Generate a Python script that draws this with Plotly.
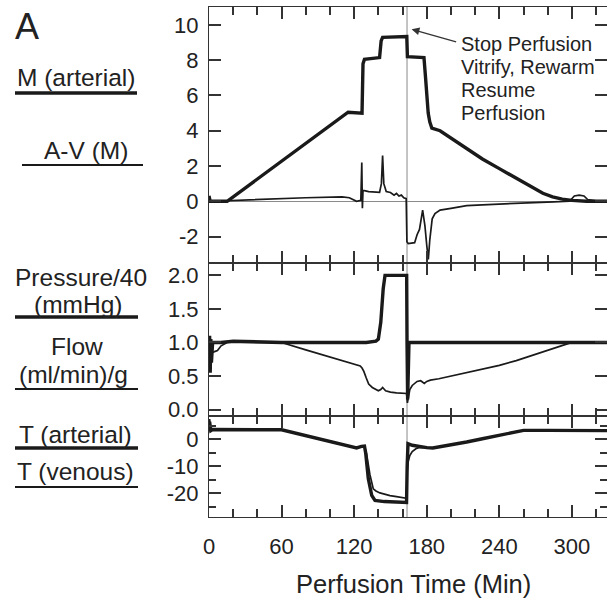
import plotly.graph_objects as go

# ---------------- data ----------------
# Top panel: M (arterial) thick, A-V (M) thin
t_M = [0, 1, 2, 15, 115, 126.5, 127.3, 128.5, 141, 142.3, 143.5, 163.5, 164,
       177.7, 178.8, 180, 181.2, 182.5, 184.2, 191, 200, 213, 226, 240, 254,
       268, 276, 284, 292, 300, 312, 329]
M_art = [0.3, 0, 0, 0, 5.05, 5.0, 7.8, 8.05, 8.15, 9.1, 9.3, 9.35, 8.2,
         8.15, 7.2, 6.0, 5.0, 4.5, 4.15, 4.0, 3.6, 3.0, 2.4, 1.85, 1.3,
         0.75, 0.45, 0.25, 0.12, 0.05, 0.0, 0.0]

t_AV = [0, 1, 3, 20, 50, 80, 110, 116, 122, 125.5, 126.3, 126.8, 127.3,
        128.5, 132, 137, 141, 142.5, 143.5, 144.5, 146.5, 150, 153, 155,
        157, 159, 161, 163, 163.6, 164.7, 170, 172, 174, 176.6, 178.5, 180,
        181.3, 182.5, 184.5, 186.8, 191, 200, 213, 226, 240, 254, 268, 285,
        298, 302, 306, 310, 313, 320, 329]
AV = [0.3, 0.0, 0.0, 0.05, 0.1, 0.2, 0.25, 0.2, 0.0, 0.05, 2.2, -0.4, 0.6,
      0.6, 0.55, 0.5, 0.5, 1.0, 2.6, 1.0, 0.55, 0.5, 0.35, 0.45, 0.3, 0.35,
      0.2, 0.15, -2.3, -2.4, -2.35, -1.9, -1.6, -0.5, -1.4, -2.5, -3.3,
      -2.2, -1.0, -0.7, -0.5, -0.4, -0.25, -0.2, -0.15, -0.1, -0.08, -0.03,
      0.0, 0.3, 0.35, 0.3, 0.1, 0.02, 0.0]

# Middle panel: Pressure/40 thick, Flow thin
t_P = [0, 0.5, 1, 1.5, 2, 3, 10, 20, 60, 100, 130, 138, 140, 142, 144,
       145.5, 163.4, 163.7, 164.2, 164.8, 165.3, 200, 250, 300, 329]
P40 = [0.6, 1.1, 0.55, 1.05, 0.7, 1.0, 1.0, 1.02, 1.0, 1.0, 1.0, 1.02,
       1.05, 1.3, 1.8, 2.0, 2.0, 1.0, 0.15, 0.6, 1.0, 1.0, 1.0, 1.0, 1.0]

t_F = [0, 0.5, 1, 2, 4, 7, 10, 15, 30, 60, 80, 100, 115, 122, 125, 126.5,
       128, 130, 132, 135, 138, 140, 142, 143.5, 146, 150, 155, 160, 163.3,
       164, 165, 166, 168, 172, 175, 178, 180, 183, 190, 200, 213, 226, 240,
       254, 268, 283, 298, 310, 329]
Flow = [0.6, 0.95, 0.75, 0.85, 0.86, 0.88, 0.95, 1.0, 1.0, 1.0, 0.89, 0.78,
        0.70, 0.66, 0.65, 0.62, 0.57, 0.47, 0.38, 0.33, 0.3, 0.28, 0.3,
        0.33, 0.28, 0.26, 0.25, 0.24, 0.24, 0.1, 0.2, 0.3, 0.36, 0.42, 0.43,
        0.39, 0.42, 0.44, 0.46, 0.5, 0.56, 0.61, 0.66, 0.73, 0.81, 0.9, 0.99,
        1.0, 1.0]

# Bottom panel: T (arterial) thick, T (venous) thin
t_Ta = [0, 0.5, 1.5, 3, 60, 90, 122, 126, 128.5, 129.5, 131.7, 134.5, 137.2,
        145, 163.3, 163.8, 164.5, 168, 174, 180, 185, 200, 213, 226, 240,
        250, 260, 280, 300, 329]
T_art = [3.0, 6.5, 3.2, 3.6, 3.5, 0.2, -3.2, -2.6, -2.5, -5.0, -14.6, -20.7,
         -22.6, -23.0, -23.3, -10.0, -1.6, -2.2, -2.8, -3.1, -3.2, -2.1,
         -1.0, 0.2, 1.5, 2.5, 3.3, 3.3, 3.2, 3.2]

t_Tv = [0, 0.5, 1.5, 3, 60, 90, 122, 126, 128.5, 130.3, 133, 135.8, 138,
        141.3, 145, 149.6, 155, 157.9, 163.3, 163.8, 164.5, 166, 168, 171,
        174, 180, 185, 200, 213, 226, 240, 250, 260, 280, 300, 329]
T_ven = [3.0, 7.5, 3.0, 3.6, 3.5, 0.2, -3.2, -2.6, -2.5, -5.5, -13.0, -18.3,
         -19.1, -19.8, -20.3, -20.8, -21.2, -21.4, -21.8, -12.0, -8.5, -6.0,
         -4.5, -3.5, -3.0, -3.1, -3.2, -2.1, -1.0, 0.2, 1.5, 2.5, 3.3, 3.3,
         3.2, 3.2]

t_event = 163.7

# tick values and labels (plain hyphen minus as in the reference)
x_ticks = [0, 60, 120, 180, 240, 300]
y1_ticks = [-2, 0, 2, 4, 6, 8, 10]
y1_text = ["-2", "0", "2", "4", "6", "8", "10"]
y2_ticks = [0.0, 0.5, 1.0, 1.5, 2.0]
y2_text = ["0.0", "0.5", "1.0", "1.5", "2.0"]
y3_ticks = [-20, -10, 0]
y3_text = ["-20", "-10", "0"]

# ---------------- figure ----------------
W, H = 607, 603
ML, MR, MT, MB = 209, 0, 7, 86
PW, PH = W - ML - MR, H - MT - MB


def px(xp):
    return (xp - ML) / PW


def py(yp):
    return (H - MB - yp) / PH


d1 = 101 / PH
d2 = 254.4 / PH

INK = "#1a1a1a"
AXC = "#333333"
FONT = "Liberation Sans, Arial, sans-serif"
THICK, THIN = 3.4, 1.7

fig = go.Figure()


def add(x, y, w, xa, ya):
    fig.add_trace(go.Scatter(x=x, y=y, mode="lines", xaxis=xa, yaxis=ya,
                             line=dict(color=INK, width=w),
                             showlegend=False, hoverinfo="skip"))


add(t_AV, AV, THIN, "x", "y")
add(t_M, M_art, THICK, "x", "y")
add(t_F, Flow, THIN, "x2", "y2")
add(t_P, P40, THICK, "x2", "y2")
add(t_Tv, T_ven, THIN, "x3", "y3")
add(t_Ta, T_art, THICK, "x3", "y3")

tickfont = dict(family=FONT, size=22, color="#222")

xbase = dict(range=[0, 329], showline=True, linecolor=AXC, linewidth=1.1,
             mirror="ticks", ticks="inside", ticklen=12, tickwidth=1.5,
             tickcolor=AXC, tickmode="array", tickvals=x_ticks,
             minor=dict(dtick=20, tick0=0, ticks="inside", ticklen=8,
                        tickwidth=1.5, tickcolor=AXC),
             showgrid=False, zeroline=False, fixedrange=True)

ybase = dict(showline=True, linecolor=AXC, linewidth=1.1, mirror="ticks",
             ticks="inside", ticklen=12, tickwidth=1.5, tickcolor=AXC,
             showgrid=False, tickfont=tickfont, ticklabelstandoff=5,
             tickmode="array", fixedrange=True)

fig.update_layout(
    width=W, height=H,
    margin=dict(l=ML, r=MR, t=MT, b=MB, pad=0, autoexpand=False),
    paper_bgcolor="white", plot_bgcolor="white",
    font=dict(family=FONT, color="#222"),
    xaxis=dict(xbase, anchor="y", showticklabels=False),
    xaxis2=dict(xbase, anchor="y2", showticklabels=False, matches="x"),
    xaxis3=dict(xbase, anchor="y3", showticklabels=True, matches="x",
                tickfont=tickfont, ticklabelstandoff=10),
    yaxis=dict(ybase, domain=[d2, 1], range=[-3.48, 11.02],
               tickvals=y1_ticks, ticktext=y1_text,
               zeroline=True, zerolinecolor="#8a8a8a", zerolinewidth=1),
    yaxis2=dict(ybase, domain=[d1, d2], range=[-0.095, 2.19],
                tickvals=y2_ticks, ticktext=y2_text, zeroline=False),
    yaxis3=dict(ybase, domain=[0, d1], range=[-28.7, 8.6],
                tickvals=y3_ticks, ticktext=y3_text, zeroline=False,
                minor=dict(dtick=5, tick0=0, ticks="inside", ticklen=7,
                           tickwidth=1.5, tickcolor=AXC)),
)

# event line through all panels
fig.add_shape(type="line", xref="x", yref="paper", x0=t_event, x1=t_event,
              y0=0, y1=1, line=dict(color="#8a8a8a", width=1), layer="below")

ann = []


def label(text, cx, cy, size=24.5, anchor="center"):
    ann.append(dict(text=text, xref="paper", yref="paper", x=px(cx),
                    y=py(cy), xanchor=anchor, yanchor="middle",
                    showarrow=False,
                    font=dict(family=FONT, size=size, color="#222")))


label("A", 27, 27, size=36)
label("M (arterial)", 76, 78)
label("A-V (M)", 86, 150)
label("Pressure/40", 81, 277)
label("(mmHg)", 78, 305)
label("Flow", 77, 346)
label("(ml/min)/g", 73, 374)
label("T (arterial)", 75, 434)
label("T (venous)", 75, 471)
label("Perfusion Time (Min)", 413, 584, size=25.5)

for txt, cy in [("Stop Perfusion", 44), ("Vitrify, Rewarm", 67),
                ("Resume", 90), ("Perfusion", 113)]:
    label(txt, 459, cy, size=20, anchor="left")

# arrow to the event line
ann.append(dict(text="", xref="x", yref="y", x=167.5, y=9.76, ax=46, ay=13,
                showarrow=True, arrowhead=2, arrowsize=1.2, arrowwidth=1.3,
                arrowcolor="#333"))

fig.update_layout(annotations=ann)

# legend-style underlines
for (x0, x1, yy, w) in [(15, 137, 93, THICK), (22, 143, 165, 2.0),
                        (15, 138, 317, THICK), (15, 138, 389, 2.0),
                        (15, 138, 448, THICK), (15, 138, 487, 2.0)]:
    fig.add_shape(type="line", xref="paper", yref="paper", x0=px(x0),
                  x1=px(x1), y0=py(yy), y1=py(yy),
                  line=dict(color=INK, width=w))

fig.write_html("out.html", config={"displayModeBar": False},
               post_script="document.body.style.margin='0px';"
                           "document.body.style.overflow='hidden';")
